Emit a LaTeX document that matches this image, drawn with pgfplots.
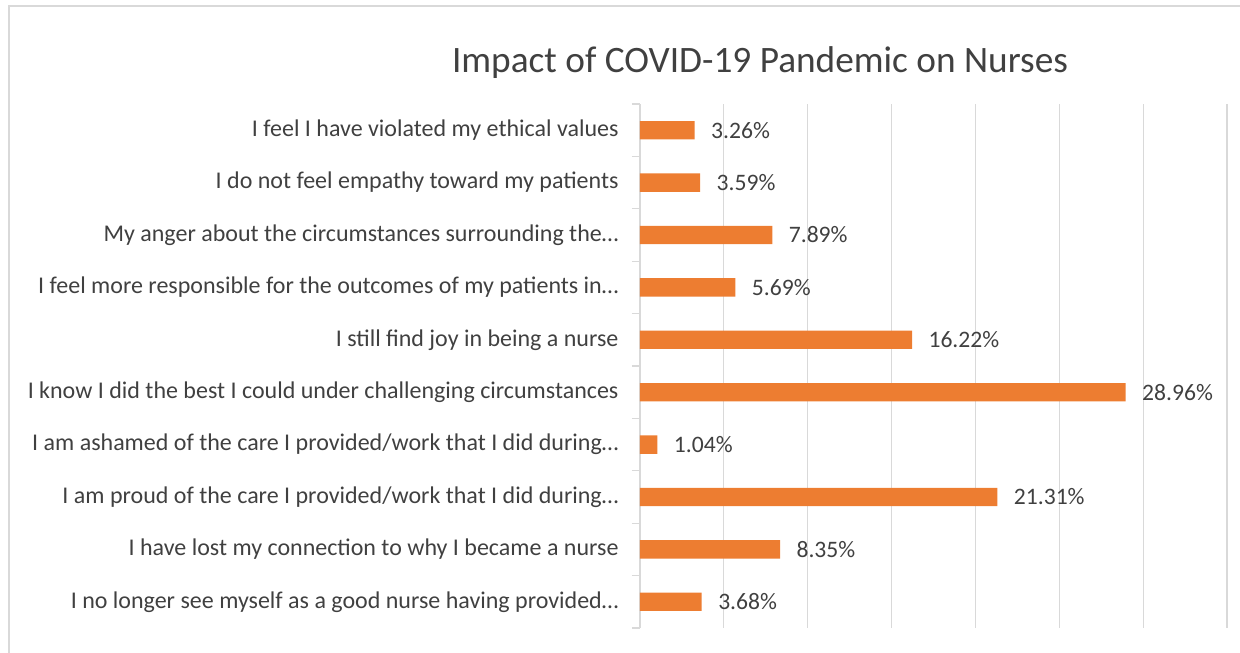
\documentclass[border=0pt]{standalone}
\usepackage{pgfplots}
\pgfplotsset{compat=1.18}
\usepackage{fontspec}
\setmainfont{Carlito}
\definecolor{barorange}{HTML}{ED7D31}
\definecolor{gridgray}{HTML}{D9D9D9}
\definecolor{txtgray}{HTML}{404040}
\begin{document}
\begin{tikzpicture}[x=1pt,y=1pt]
\useasboundingbox (0,0) rectangle (1240,653);
\draw[gridgray,line width=2pt] (9,0) -- (9,647) -- (1240,647);
\node[txtgray,font=\fontsize{37.3}{44}\selectfont] at (760,590) {Impact of COVID-19 Pandemic on Nurses};
\begin{axis}[
  at={(640pt,25pt)}, anchor=south west,
  scale only axis, width=587pt, height=524pt,
  xbar, bar width=0.35,
  xmin=0, xmax=35, ymin=-0.5, ymax=9.5,
  axis x line=none,
  axis y line*=left,
  y axis line style={gridgray,line width=1.2pt},
  xtick={5,10,...,35}, 
  ytick={0,...,9},
  major tick length=0pt,
  minor ytick={-0.5,0.5,...,9.5},
  minor tick length=8pt,
  tick align=outside,
  minor tick style={gridgray,line width=1.2pt},
  yticklabels={
    I no longer see myself as a good nurse having provided\ldots,
    I have lost my connection to why I became a nurse,
    I am proud of the care I provided/work that I did during\ldots,
    I am ashamed of the care I provided/work that I did during\ldots,
    I know I did the best I could under challenging circumstances,
    I still find joy in being a nurse,
    I feel more responsible for the outcomes of my patients in\ldots,
    My anger about the circumstances surrounding the\ldots,
    I do not feel empathy toward my patients,
    I feel I have violated my ethical values},
  yticklabel style={txtgray,font=\fontsize{24}{28}\selectfont,anchor=east,xshift=-18pt},
  clip=false,
  point meta=x,
  nodes near coords={\pgfmathprintnumber[fixed,fixed zerofill,precision=2]{\pgfplotspointmeta}\%},
  every node near coord/.append style={txtgray,font=\fontsize{23.6}{28}\selectfont,anchor=west,xshift=13pt},
  /pgf/number format/assume math mode=true,
]
\foreach \xv in {5,10,...,35} {
  \edef\tmp{\noexpand\draw[gridgray,line width=1.2pt] (axis cs:\xv,-0.5) -- (axis cs:\xv,9.5);}
  \tmp
}
\addplot[fill=barorange,draw=none] coordinates {
(3.68,0) (8.35,1) (21.31,2) (1.04,3) (28.96,4) (16.22,5) (5.69,6) (7.89,7) (3.59,8) (3.26,9)};
\end{axis}
\end{tikzpicture}
\end{document}
